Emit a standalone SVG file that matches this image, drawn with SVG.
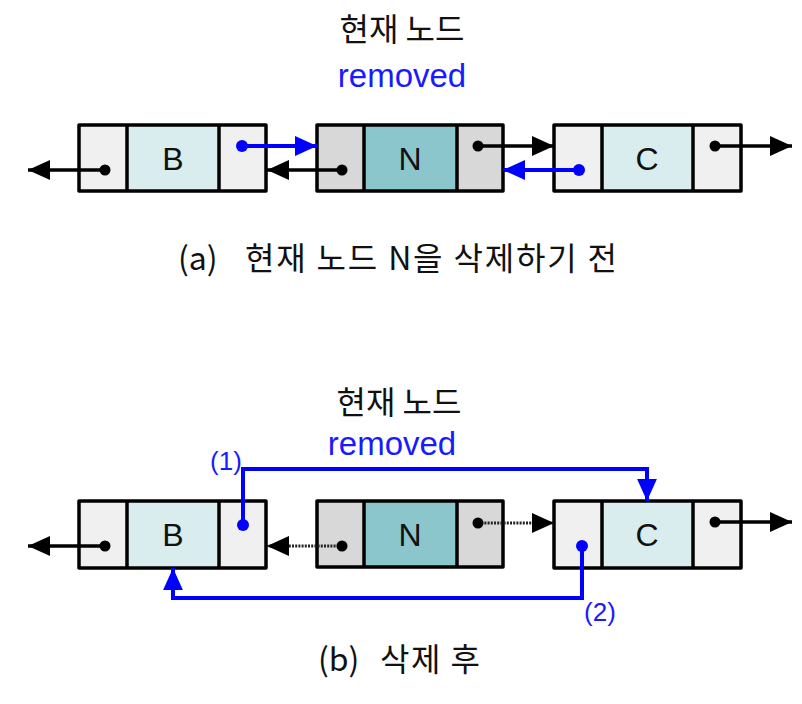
<svg xmlns="http://www.w3.org/2000/svg" width="802" height="704" viewBox="0 0 802 704">
<style>
.box{stroke:#000;stroke-width:3.5;stroke-linejoin:round}
.end{fill:#f0f0f0}
.bmid{fill:#d9ecee}
.ngray{fill:#d8d8d8}
.nmid{fill:#8bc6cc}
.lbl{font-family:"Liberation Sans",Arial,sans-serif;font-size:32px;fill:#111;text-anchor:middle}
.kt{font-family:"Noto Sans CJK KR","Noto Sans",sans-serif;font-size:32px;fill:#111;text-anchor:middle}
.cap{font-family:"Noto Sans CJK KR","Noto Sans",sans-serif;font-size:32px;fill:#111}
.rm{font-family:"Liberation Sans",Arial,sans-serif;font-size:33px;fill:#1a1aff;text-anchor:middle}
.num{font-family:"Liberation Sans",Arial,sans-serif;font-size:26px;fill:#1a1aff;text-anchor:middle}
.bk{stroke:#000;stroke-width:3.5;fill:none}
.bl{stroke:#0000ff;stroke-width:4;fill:none}
.dt{stroke:#222;stroke-width:3;stroke-dasharray:2 1.2;fill:none}
.dotk{fill:#000}
.dotb{fill:#0000ff}
</style>
<defs>
<marker id="ak" markerUnits="userSpaceOnUse" markerWidth="22" markerHeight="22" viewBox="0 0 20 20" refX="20" refY="10" orient="auto">
<path d="M0,1 L20,10 L0,19 Z" fill="#000"/>
</marker>
<marker id="ab" markerUnits="userSpaceOnUse" markerWidth="22" markerHeight="22" viewBox="0 0 20 20" refX="20" refY="10" orient="auto">
<path d="M0,1 L20,10 L0,19 Z" fill="#0000ff"/>
</marker>
</defs>
<rect width="802" height="704" fill="#fff"/>

<!-- Titles -->
<text class="kt" x="402" y="41">현재 노드</text>
<text class="rm" x="402" y="87">removed</text>
<text class="cap" x="178" y="270">(a)</text>
<text class="cap" x="245" y="270" textLength="372" lengthAdjust="spacing">현재 노드 N을 삭제하기 전</text>
<text class="kt" x="399" y="414">현재 노드</text>
<text class="rm" x="392" y="455">removed</text>
<text class="cap" x="318" y="671">(b)</text>
<text class="cap" x="380" y="671" textLength="100" lengthAdjust="spacing">삭제 후</text>

<!-- (a) nodes -->
<g id="a-B">
<rect class="end" x="79" y="125" width="48" height="66"/>
<rect class="bmid" x="127" y="125" width="92" height="66"/>
<rect class="end" x="219" y="125" width="47" height="66"/>
<rect class="box" x="79" y="125" width="187" height="66" fill="none"/>
<line class="box" x1="127" y1="125" x2="127" y2="191"/>
<line class="box" x1="219" y1="125" x2="219" y2="191"/>
<text class="lbl" x="173" y="170">B</text>
</g>
<g id="a-N">
<rect class="ngray" x="317" y="125" width="47" height="66"/>
<rect class="nmid" x="364" y="125" width="93" height="66"/>
<rect class="ngray" x="457" y="125" width="46" height="66"/>
<rect class="box" x="317" y="125" width="186" height="66" fill="none"/>
<line class="box" x1="364" y1="125" x2="364" y2="191"/>
<line class="box" x1="457" y1="125" x2="457" y2="191"/>
<text class="lbl" x="410" y="170">N</text>
</g>
<g id="a-C">
<rect class="end" x="554" y="125" width="48" height="66"/>
<rect class="bmid" x="602" y="125" width="91" height="66"/>
<rect class="end" x="693" y="125" width="48" height="66"/>
<rect class="box" x="554" y="125" width="187" height="66" fill="none"/>
<line class="box" x1="602" y1="125" x2="602" y2="191"/>
<line class="box" x1="693" y1="125" x2="693" y2="191"/>
<text class="lbl" x="647" y="170">C</text>
</g>

<!-- (b) nodes -->
<g id="b-B">
<rect class="end" x="79" y="501" width="48" height="67"/>
<rect class="bmid" x="127" y="501" width="92" height="67"/>
<rect class="end" x="219" y="501" width="47" height="67"/>
<rect class="box" x="79" y="501" width="187" height="67" fill="none"/>
<line class="box" x1="127" y1="501" x2="127" y2="568"/>
<line class="box" x1="219" y1="501" x2="219" y2="568"/>
<text class="lbl" x="173" y="546">B</text>
</g>
<g id="b-N">
<rect class="ngray" x="317" y="501" width="47" height="66"/>
<rect class="nmid" x="364" y="501" width="93" height="66"/>
<rect class="ngray" x="457" y="501" width="46" height="66"/>
<rect class="box" x="317" y="501" width="186" height="66" fill="none"/>
<line class="box" x1="364" y1="501" x2="364" y2="567"/>
<line class="box" x1="457" y1="501" x2="457" y2="567"/>
<text class="lbl" x="410" y="546">N</text>
</g>
<g id="b-C">
<rect class="end" x="554" y="501" width="48" height="67"/>
<rect class="bmid" x="602" y="501" width="91" height="67"/>
<rect class="end" x="693" y="501" width="48" height="67"/>
<rect class="box" x="554" y="501" width="187" height="67" fill="none"/>
<line class="box" x1="602" y1="501" x2="602" y2="568"/>
<line class="box" x1="693" y1="501" x2="693" y2="568"/>
<text class="lbl" x="647" y="546">C</text>
</g>

<!-- connectors -->
<g id="connectors">
<!-- (a) -->
<line class="bk" x1="105" y1="170" x2="28" y2="170" marker-end="url(#ak)"/>
<circle class="dotk" cx="105" cy="170" r="5.5"/>
<line class="bl" x1="242" y1="146" x2="317" y2="146" marker-end="url(#ab)"/>
<circle class="dotb" cx="242" cy="146" r="6"/>
<line class="bk" x1="342" y1="170" x2="267" y2="170" marker-end="url(#ak)"/>
<circle class="dotk" cx="342" cy="170" r="5.5"/>
<line class="bk" x1="478" y1="146" x2="554" y2="146" marker-end="url(#ak)"/>
<circle class="dotk" cx="478" cy="146" r="5.5"/>
<line class="bl" x1="579" y1="170" x2="503" y2="170" marker-end="url(#ab)"/>
<circle class="dotb" cx="579" cy="170" r="6"/>
<line class="bk" x1="715" y1="146" x2="792" y2="146" marker-end="url(#ak)"/>
<circle class="dotk" cx="715" cy="146" r="5.5"/>

<!-- (b) -->
<line class="bk" x1="105" y1="546" x2="28" y2="546" marker-end="url(#ak)"/>
<circle class="dotk" cx="105" cy="546" r="5.5"/>
<polyline class="bl" points="243,525 243,469 647,469 647,501" marker-end="url(#ab)"/>
<circle class="dotb" cx="243" cy="525" r="6"/>
<line class="dt" x1="342" y1="546" x2="267" y2="546" marker-end="url(#ak)"/>
<circle class="dotk" cx="342" cy="546" r="5.5"/>
<line class="dt" x1="478" y1="523" x2="554" y2="523" marker-end="url(#ak)"/>
<circle class="dotk" cx="478" cy="523" r="5.5"/>
<polyline class="bl" points="582,546 582,598 173,598 173,568" marker-end="url(#ab)"/>
<circle class="dotb" cx="582" cy="546" r="6"/>
<line class="bk" x1="715" y1="522" x2="792" y2="522" marker-end="url(#ak)"/>
<circle class="dotk" cx="715" cy="522" r="5.5"/>
<text class="num" x="226" y="470">(1)</text>
<text class="num" x="600" y="621">(2)</text>
</g>
</svg>
